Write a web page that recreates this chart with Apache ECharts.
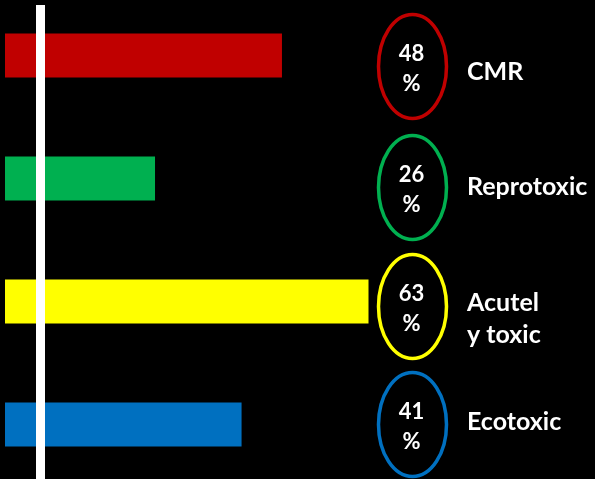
<!DOCTYPE html>
<html>
<head>
<meta charset="utf-8">
<script src="https://cdn.jsdelivr.net/npm/echarts@6/dist/echarts.min.js"></script>
<style>
html,body{margin:0;padding:0;background:#000;}
#c{width:595px;height:479px;}
</style>
</head>
<body>
<div id="c"></div>
<script>
// ---- data ----
const categories = ['CMR', 'Reprotoxic', 'Acutel\ny toxic', 'Ecotoxic'];
const values = [48, 26, 63, 41];
const percentLabels = ['48', '26', '63', '41'];

// ---- styles / layout ----
const colors = ['#C00000', '#00B050', '#FFFF00', '#0070C0'];
const ellipseDy = [11, 9, 5, 0];
const labelDy = [16, 8, 17, -3];
const FONT = 'Lato, "Liberation Sans", Arial, sans-serif';

const chart = echarts.init(document.getElementById('c'));
chart.setOption({
  backgroundColor: '#000',
  animation: false,
  grid: { left: 5, right: 13, top: -6, bottom: -7, containLabel: false, outerBoundsMode: 'none' },
  xAxis: { type: 'value', min: 0, max: 100, show: false },
  yAxis: { type: 'category', data: categories, inverse: true, show: false },
  series: [
    {
      type: 'bar',
      barWidth: 44,
      data: values.map((v, i) => ({ value: v, itemStyle: { color: colors[i] } }))
    },
    {
      type: 'custom',
      data: values.map((v, i) => [v, i]),
      encode: { x: 0, y: 1 },
      clip: false,
      renderItem: function (params, api) {
        const i = params.dataIndex;
        const base = api.coord([0, i]);
        const cx = 412.5;
        const cy = base[1] + ellipseDy[i];
        return {
          type: 'group',
          children: [
            {
              type: 'ellipse',
              shape: { cx: cx, cy: cy, rx: 34, ry: 52 },
              style: { fill: 'none', stroke: colors[i], lineWidth: 3.5 }
            },
            {
              type: 'text',
              style: {
                text: percentLabels[i] + '\n%',
                x: cx - 1, y: cy + 2,
                align: 'center', verticalAlign: 'middle',
                fill: '#fff', fontFamily: FONT, fontWeight: 'bold', fontSize: 22, lineHeight: 30
              }
            },
            {
              type: 'text',
              style: {
                text: categories[i],
                x: 467, y: base[1] + labelDy[i],
                align: 'left', verticalAlign: 'middle',
                fill: '#fff', fontFamily: FONT, fontWeight: 'bold', fontSize: 25, lineHeight: 32
              }
            }
          ]
        };
      }
    }
  ],
  graphic: [
    {
      type: 'line',
      shape: { x1: 40.5, y1: 5, x2: 40.5, y2: 479 },
      style: { stroke: '#fff', lineWidth: 9 },
      z: 100
    }
  ]
});
</script>
</body>
</html>
